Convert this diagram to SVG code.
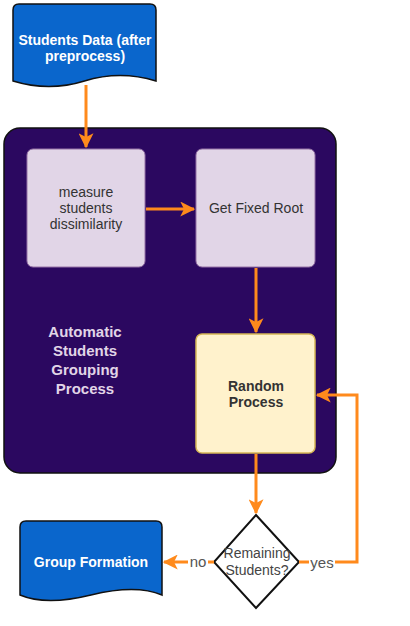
<svg xmlns="http://www.w3.org/2000/svg" width="410" height="626" viewBox="0 0 410 626">
<defs>
<style>
.doc{fill:#0A66CC;stroke:#111;stroke-width:1.5}
.doct{fill:#fff;font:bold 14px "Liberation Sans",Arial,sans-serif;text-anchor:middle}
.box{fill:#E1D5E7;stroke:#9673A6;stroke-width:1}
.boxt{fill:#333;font:14px "Liberation Sans",Arial,sans-serif;text-anchor:middle}
.edge{fill:none;stroke:#FF8A1C;stroke-width:3}
.lbl{fill:#555;font:15px "Liberation Sans",Arial,sans-serif;text-anchor:middle}
</style>
<marker id="ah" viewBox="0 0 12 12" refX="11" refY="6" markerWidth="5" markerHeight="5" orient="auto" markerUnits="strokeWidth">
<path d="M0,0 L12,6 L0,12 L3,6 Z" fill="#FF8A1C"/>
</marker>
</defs>
<rect width="410" height="626" fill="#fff"/>
<g id="container">
<rect x="4" y="128" width="332" height="345" rx="16" fill="#2B0860" stroke="#111" stroke-width="1.5"/>
<text x="85" y="337" fill="#E1D5E7" style="font:bold 15px 'Liberation Sans',Arial,sans-serif;text-anchor:middle"><tspan x="85">Automatic</tspan><tspan x="85" dy="19">Students</tspan><tspan x="85" dy="19">Grouping</tspan><tspan x="85" dy="19">Process</tspan></text>
</g>
<g id="students-data">
<path class="doc" d="M19,4 L150,4 Q156,4 156,10 L156,81 Q120,70 84.5,81 Q49,92 13,81 L13,10 Q13,4 19,4 Z"/>
<text class="doct" x="85" y="45"><tspan x="85">Students Data (after</tspan><tspan x="85" dy="16">preprocess)</tspan></text>
</g>
<g id="measure">
<rect class="box" x="27" y="149" width="118" height="118" rx="6"/>
<text class="boxt" x="86" y="197"><tspan x="86">measure</tspan><tspan x="86" dy="16">students</tspan><tspan x="86" dy="16">dissimilarity</tspan></text>
</g>
<g id="fixed-root">
<rect class="box" x="196" y="149" width="119" height="118" rx="6"/>
<text class="boxt" x="256" y="213">Get Fixed Root</text>
</g>
<g id="random">
<rect x="196" y="334" width="119" height="119" rx="6" fill="#FFF2CC" stroke="#D6B656" stroke-width="1.5"/>
<text class="boxt" x="256" y="391" style="font-weight:bold"><tspan x="256">Random</tspan><tspan x="256" dy="16">Process</tspan></text>
</g>
<g id="decision">
<path d="M256,515 L299,562 L256,608 L214,562 Z" fill="#fff" stroke="#111" stroke-width="2"/>
<text x="257" y="558" fill="#444" style="font:14px 'Liberation Sans',Arial,sans-serif;text-anchor:middle"><tspan x="257">Remaining</tspan><tspan x="257" dy="17">Students?</tspan></text>
</g>
<g id="group-formation">
<path class="doc" d="M26,521 L156,521 Q162,521 162,527 L162,595 Q136,584 91,595 Q46,606 20,595 L20,527 Q20,521 26,521 Z"/>
<text class="doct" x="91" y="567">Group Formation</text>
</g>
<g id="connectors">
<path class="edge" d="M86,85 L86,147" marker-end="url(#ah)"/>
<path class="edge" d="M146,209 L194,209" marker-end="url(#ah)"/>
<path class="edge" d="M256,268 L256,332" marker-end="url(#ah)"/>
<path class="edge" d="M256,454 L256,513" marker-end="url(#ah)"/>
<path class="edge" d="M214,562 L164,562" marker-end="url(#ah)"/>
<path class="edge" d="M299,562 L357,562 L357,395 L317,395" marker-end="url(#ah)"/>
<rect x="188" y="553" width="20" height="18" fill="#fff"/>
<text class="lbl" x="198" y="567">no</text>
<rect x="309" y="553" width="26" height="20" fill="#fff"/>
<text class="lbl" x="322" y="568">yes</text>
</g>
</svg>
